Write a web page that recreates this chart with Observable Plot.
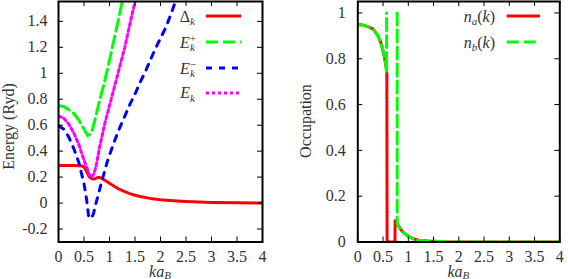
<!DOCTYPE html>
<html><head><meta charset="utf-8">
<script src="https://cdn.jsdelivr.net/npm/d3@7"></script>
<script src="https://cdn.jsdelivr.net/npm/@observablehq/plot@0.6"></script>
<style>
body{margin:0;background:#fff;}
#wrap{display:flex;width:568px;height:279px;overflow:hidden;}
svg{display:block;}
</style></head><body><div id="wrap"></div>
<script>
// ---------- data: left panel (energies vs k a_B) ----------
const kDelta = [0, 0.3, 0.45, 0.5, 0.55, 0.6, 0.65, 0.7, 0.75, 0.8, 0.85, 0.9, 1.0, 1.1, 1.2, 1.3, 1.4, 1.5, 1.6, 1.8, 2.0, 2.25, 2.5, 2.75, 3.0, 3.5, 4.0];
const delta  = [0.29, 0.29, 0.286, 0.278, 0.245, 0.203, 0.188, 0.185, 0.195, 0.198, 0.19, 0.178, 0.152, 0.128, 0.105, 0.088, 0.073, 0.06, 0.05, 0.036, 0.026, 0.018, 0.012, 0.008, 0.005, 0.002, 0.001];

const kEplus = [0, 0.1, 0.2, 0.3, 0.4, 0.5, 0.57, 0.62, 0.66, 0.7, 0.8, 0.9, 1.0, 1.1, 1.2, 1.3];
const ePlus  = [0.75, 0.745, 0.72, 0.69, 0.64, 0.57, 0.52, 0.53, 0.56, 0.62, 0.78, 0.93, 1.1, 1.28, 1.46, 1.65];

const kEminus = [0, 0.1, 0.2, 0.3, 0.4, 0.5, 0.55, 0.59, 0.63, 0.68, 0.75, 0.85, 0.95, 1.0, 1.1, 1.2, 1.3, 1.4, 1.5, 1.6, 1.7, 1.8, 1.9, 2.0, 2.1, 2.2, 2.3, 2.4];
const eMinus  = [0.595, 0.57, 0.51, 0.42, 0.31, 0.15, 0.03, -0.1, -0.12, -0.09, 0.02, 0.17, 0.31, 0.37, 0.48, 0.58, 0.67, 0.76, 0.84, 0.93, 1.01, 1.1, 1.19, 1.27, 1.35, 1.45, 1.56, 1.67];

const kEk = [0, 0.1, 0.2, 0.3, 0.4, 0.5, 0.56, 0.6, 0.65, 0.7, 0.75, 0.8, 0.9, 1.0, 1.1, 1.2, 1.3, 1.4, 1.5, 1.6];
const eK  = [0.67, 0.655, 0.61, 0.54, 0.45, 0.33, 0.27, 0.22, 0.2, 0.23, 0.31, 0.42, 0.6, 0.75, 0.9, 1.05, 1.2, 1.38, 1.55, 1.72];

// ---------- data: right panel (occupations) ----------
const kNa = [0, 0.1, 0.2, 0.3, 0.4, 0.45, 0.5, 0.53, 0.55, 0.575, 0.58, 0.735, 0.74, 0.78, 0.85, 0.91, 1.0, 1.1, 1.2, 1.4, 1.7, 2.0, 3.0, 4.0];
const nA  = [0.95, 0.947, 0.94, 0.93, 0.9, 0.875, 0.835, 0.805, 0.78, 0.74, 0, 0, 0.093, 0.08, 0.055, 0.04, 0.025, 0.014, 0.008, 0.004, 0.001, 0, 0, 0];

const kNb = [0, 0.1, 0.2, 0.3, 0.4, 0.45, 0.5, 0.53, 0.55, 0.57, 0.57, 0.67, 0.78, 0.78, 0.85, 0.91, 1.0, 1.1, 1.2, 1.4, 1.7, 2.0, 3.0, 4.0];
const nB  = [0.95, 0.947, 0.94, 0.93, 0.9, 0.875, 0.835, 0.805, 0.78, 0.745, 1.0, NaN, 1.0, 0.08, 0.055, 0.04, 0.025, 0.014, 0.008, 0.004, 0.001, 0, 0, 0];

// ---------- ticks ----------
const xTicks = [0, 0.5, 1, 1.5, 2, 2.5, 3, 3.5, 4];
const yTicksLeft = [-0.2, 0, 0.2, 0.4, 0.6, 0.8, 1, 1.2, 1.4];
const yTicksRight = [0, 0.2, 0.4, 0.6, 0.8, 1];

const FONT = "'Liberation Serif', 'DejaVu Serif', serif";
const TEXT = "#333";
const W = 284, H = 279;
const MT = 1, MB = 37.5;

const RED = "#ff0000", GREEN = "#00ff00", BLUE = "#0000ff", MAG = "#ff00ff";
const DASH_G = "12,5", DASH_B = "6,7", DASH_M = "3,3";

function panel({ml, mr, ydomain, yticks, lines}) {
  const fw = W - ml - mr, fh = H - MT - MB;
  return Plot.plot({
    width: W, height: H,
    marginLeft: ml, marginRight: mr, marginTop: MT, marginBottom: MB,
    style: {fontFamily: FONT, fontSize: "16px", color: TEXT, background: "white"},
    x: {domain: [0, 4], axis: null},
    y: {domain: ydomain, axis: null},
    marks: [
      ...lines,
      Plot.axisX(xTicks, {anchor: "bottom", tickSize: 0, tickPadding: 9, tickFormat: d => String(d), label: null, fontFamily: FONT}),
      Plot.axisY(yticks, {anchor: "left", tickSize: 0, tickPadding: ml > 60 ? 12 : 11, tickFormat: d => String(d), label: null, fontFamily: FONT}),
      Plot.tickX(xTicks, {x: d => d, insetTop: fh - 5, stroke: "black", strokeWidth: 1}),
      Plot.tickX(xTicks, {x: d => d, insetBottom: fh - 5, stroke: "black", strokeWidth: 1}),
      Plot.tickY(yticks, {y: d => d, insetRight: fw - 5, stroke: "black", strokeWidth: 1}),
      Plot.tickY(yticks, {y: d => d, insetLeft: fw - 5, stroke: "black", strokeWidth: 1}),
      Plot.frame({stroke: "black", strokeWidth: 2})
    ]
  });
}

function addText(svg, x, y, parts, {anchor = "end", rotate = 0, size = 16} = {}) {
  const t = d3.select(svg).append("text")
    .attr("transform", `translate(${x},${y}) rotate(${rotate})`)
    .attr("text-anchor", anchor)
    .attr("font-family", FONT)
    .attr("font-size", size)
    .attr("fill", TEXT);
  for (const p of parts) {
    const s = t.append("tspan").text(p.t);
    if (p.i) s.attr("font-style", "italic");
    if (p.dy) s.attr("dy", p.dy);
    if (p.dx) s.attr("dx", p.dx);
    if (p.s) s.attr("font-size", p.s);
  }
}
function addKey(svg, x1, x2, y, color, dash) {
  const l = d3.select(svg).append("line")
    .attr("x1", x1).attr("x2", x2).attr("y1", y).attr("y2", y)
    .attr("stroke", color).attr("stroke-width", 3);
  if (dash) l.attr("stroke-dasharray", dash);
}

const SUB = 11;

// ---------- left panel ----------
const left = panel({
  ml: 58, mr: 22, ydomain: [-0.3, 1.553], yticks: yTicksLeft,
  lines: [
    Plot.line(delta, {x: kDelta, y: delta, stroke: RED, strokeWidth: 3, clip: true}),
    Plot.line(ePlus, {x: kEplus, y: ePlus, stroke: GREEN, strokeWidth: 3, strokeDasharray: DASH_G, clip: true}),
    Plot.line(eMinus, {x: kEminus, y: eMinus, stroke: BLUE, strokeWidth: 3, strokeDasharray: DASH_B, clip: true}),
    Plot.line(eK, {x: kEk, y: eK, stroke: MAG, strokeWidth: 3, strokeDasharray: DASH_M, clip: true})
  ]
});
addText(left, 14, 126.5, [{t: "Energy (Ryd)"}], {anchor: "middle", rotate: -90, size: 16});
addText(left, 160, 276.5, [{t: "ka", i: 1}, {t: "B", i: 1, dy: 2, s: SUB}], {anchor: "middle", size: 16});
addText(left, 195, 21.5, [{t: "Δ"}, {t: "k", i: 1, dy: 3.5, s: SUB}]);
addText(left, 196, 47.5, [{t: "E", i: 1}, {t: "k", i: 1, dy: 3, s: SUB}, {t: "+", dx: -5, dy: -8.5, s: SUB}]);
addText(left, 196, 73.5, [{t: "E", i: 1}, {t: "k", i: 1, dy: 3, s: SUB}, {t: "−", dx: -5, dy: -8.5, s: SUB}]);
addText(left, 195, 98, [{t: "E", i: 1}, {t: "k", i: 1, dy: 3.5, s: SUB}]);
addKey(left, 206, 241, 16, RED);
addKey(left, 206, 241, 42, GREEN, DASH_G);
addKey(left, 206, 241, 68, BLUE, DASH_B);
addKey(left, 206, 241, 93, MAG, DASH_M);

// ---------- right panel ----------
const right = panel({
  ml: 73.3, mr: 8.7, ydomain: [0, 1.05], yticks: yTicksRight,
  lines: [
    Plot.line(nA, {x: kNa, y: nA, stroke: RED, strokeWidth: 3, clip: true}),
    Plot.line(nB, {x: kNb, y: nB, stroke: GREEN, strokeWidth: 3, strokeDasharray: DASH_G, clip: true})
  ]
});
addText(right, 26.5, 121, [{t: "Occupation"}], {anchor: "middle", rotate: -90, size: 16});
addText(right, 174.3, 276.5, [{t: "ka", i: 1}, {t: "B", i: 1, dy: 2, s: SUB}], {anchor: "middle", size: 16});
addText(right, 211, 21.5, [{t: "n", i: 1}, {t: "a", i: 1, dy: 3.5, s: SUB}, {t: "(", dy: -3.5}, {t: "k", i: 1}, {t: ")"}]);
addText(right, 211, 47.5, [{t: "n", i: 1}, {t: "b", i: 1, dy: 3.5, s: SUB}, {t: "(", dy: -3.5}, {t: "k", i: 1}, {t: ")"}]);
addKey(right, 222.7, 256, 16, RED);
addKey(right, 222.7, 256, 42, GREEN, DASH_G);

document.getElementById("wrap").append(left, right);
</script>
</body></html>
